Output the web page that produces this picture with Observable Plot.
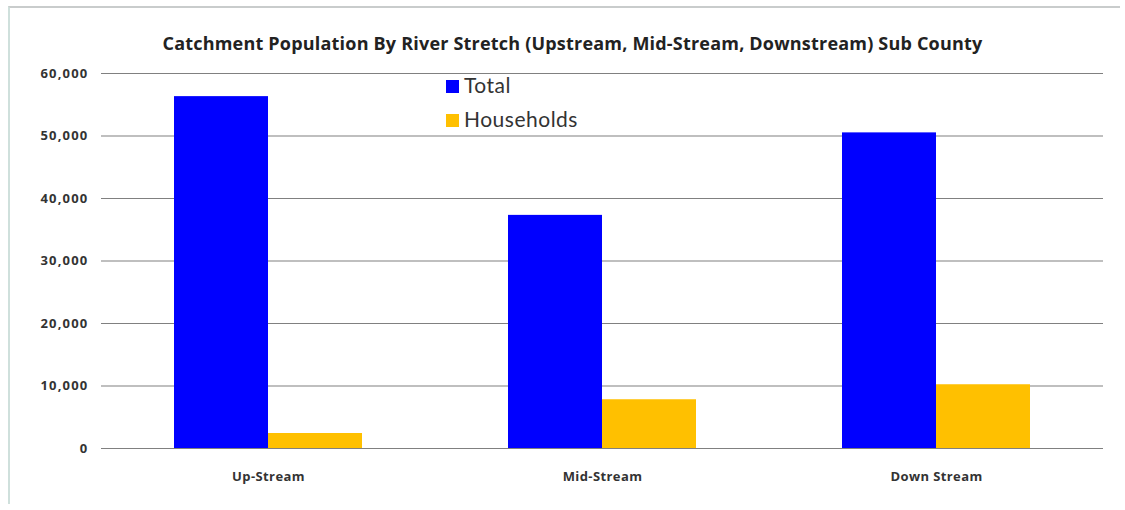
<!DOCTYPE html>
<html><head><meta charset="utf-8">
<script src="https://cdn.jsdelivr.net/npm/d3@7"></script>
<script src="https://cdn.jsdelivr.net/npm/@observablehq/plot@0.6"></script>
<style>
html,body{margin:0;padding:0;background:#fff;}
#wrap{position:relative;width:1125px;height:510px;overflow:hidden;font-family:Lato,"Open Sans",sans-serif;}
#frame{position:absolute;left:8px;top:6px;width:1112px;height:498px;border-top:2px solid #c9cccc;border-left:2px solid #cfe0dc;box-sizing:border-box;}
#title{position:absolute;left:0;width:1145px;top:31px;text-align:center;font-family:"Open Sans",sans-serif;font-weight:bold;font-size:18px;letter-spacing:0.2px;color:#222;white-space:nowrap;}
#legend{position:absolute;left:446px;top:68px;font-size:21px;letter-spacing:0.5px;color:#333;line-height:34px;}
#legend span.sw{display:inline-block;width:13px;height:13px;margin-right:5px;vertical-align:0px;}
#chart{position:absolute;left:0;top:0;}
</style></head>
<body><div id="wrap"><div id="frame"></div><div id="chart"></div>
<div id="title"></div><div id="legend"></div></div>
<script>
const titleText = "Catchment Population By River Stretch (Upstream, Mid-Stream, Downstream) Sub County";
const categories = ["Up-Stream", "Mid-Stream", "Down Stream"];
const seriesNames = ["Total", "Households"];
const totalValues = [56300, 37300, 50500];
const householdValues = [2400, 7800, 10200];
const seriesColors = ["#0000ff", "#ffc000"];
const yTicks = [0, 10000, 20000, 30000, 40000, 50000, 60000];

const rows = [];
categories.forEach((c, i) => {
  rows.push({cat: c, series: "Total", value: totalValues[i]});
  rows.push({cat: c, series: "Households", value: householdValues[i]});
});

document.getElementById("title").textContent = titleText;
const leg = document.getElementById("legend");
seriesNames.forEach((s, i) => {
  const d = document.createElement("div");
  d.innerHTML = `<span class="sw" style="background:${seriesColors[i]}"></span>${s}`;
  leg.appendChild(d);
});

const chart = Plot.plot({
  width: 1125, height: 510,
  marginTop: 73, marginBottom: 62, marginLeft: 100, marginRight: 22,
  style: {fontFamily: "'Open Sans', Lato, sans-serif", background: "transparent"},
  fx: {domain: categories, padding: 0, axis: "bottom", tickSize: 0, tickPadding: 23, label: null},
  x: {domain: seriesNames, axis: null, paddingInner: 0, paddingOuter: 0.76},
  y: {domain: [0, 60000], ticks: yTicks, tickFormat: d3.format(","), tickSize: 0, tickPadding: 13, label: null},
  color: {domain: seriesNames, range: seriesColors},
  marks: [
    Plot.gridY(yTicks, {stroke: "#808080", strokeOpacity: 1, strokeWidth: 1.2}),
    Plot.barY(rows, {fx: "cat", x: "series", y: "value", fill: "series"})
  ]
});
d3.select(chart).selectAll("[aria-label='y-axis tick label'] text, [aria-label='fx-axis tick label'] text").attr("font-weight", "bold").attr("fill", "#333");
d3.select(chart).selectAll("[aria-label='y-axis tick label']").attr("font-size", 13).attr("letter-spacing", "1.2px");
d3.select(chart).selectAll("[aria-label='fx-axis tick label']").attr("font-size", 13).attr("letter-spacing", "0.4px");
document.getElementById("chart").appendChild(chart);
</script></body></html>
